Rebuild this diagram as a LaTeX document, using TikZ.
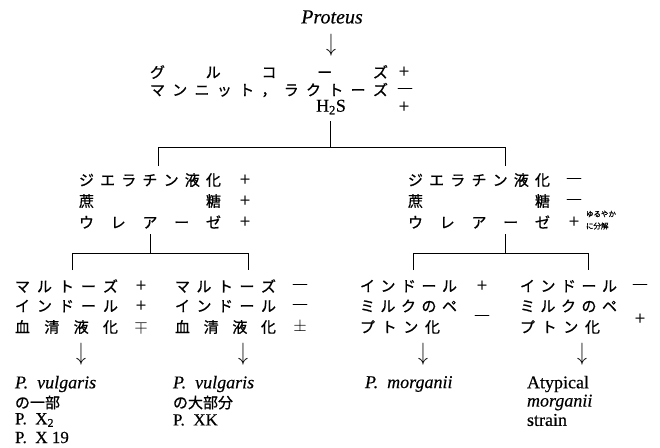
\documentclass[tikz,border=0pt]{standalone}
\usepackage{fontspec}
\setmainfont{Liberation Serif}[FakeBold=0.4]
\newfontfamily\jp{Noto Sans CJK JP}[FakeBold=0.8]
\newcommand\darr{\scalebox{1.15}[1.45]{$\downarrow$}}
\begin{document}
\begin{tikzpicture}[x=1pt,y=-1pt,
  every node/.style={inner sep=0pt, outer sep=0pt},
  jt/.style={anchor=west, font=\jp\fontsize{15}{15}\selectfont},
  jsmall/.style={anchor=west, font=\jp\fontsize{7.5}{7.5}\selectfont},
  sg/.style={font=\fontsize{19}{19}\selectfont},
  dsh/.style={font=\fontsize{14}{14}\selectfont},
  lt/.style={anchor=west, font=\fontsize{18}{18}\selectfont},
  ltb/.style={anchor=west, font=\fontsize{17}{17}\selectfont},
  ar/.style={font=\fontsize{18}{18}\selectfont},
  ln/.style={line width=0.8pt}]
\useasboundingbox (0,0) rectangle (660,447);
% top
\node[font=\itshape\fontsize{20}{20}\selectfont] (prot) at (332,17) {Proteus};
\node[ar] (a0) at (331,45) {\darr};
\node[jt] (t1) at (150,72) {\hbox to 238pt{グ\hfill ル\hfill コ\hfill ー\hfill ズ}};
\node[jt] (t2) at (150,90) {\hbox to 238pt{マ\hfill ン\hfill ニ\hfill ッ\hfill ト\hfill ，\hfill ラ\hfill ク\hfill ト\hfill ー\hfill ズ}};
\node[font=\fontsize{18}{18}\selectfont] (t3) at (331,107) {H\textsubscript{2}S};
\node[sg] (s1) at (404,72) {+};
\node[dsh] (s2) at (405,90) {—};
\node[sg] (s3) at (404,107) {+};
\coordinate (tS) at (330,121);
\coordinate (tJ) at (330,147);
\coordinate (tL) at (158,147);
\coordinate (tR) at (505,147);
\coordinate (tLd) at (158,166);
\coordinate (tRd) at (505,166);
\draw[ln] (tS) -- (tJ);
\draw[ln] (tLd) -- (tL) -- (tR) -- (tRd);
% middle left
\node[jt] (ml1) at (79,180) {\hbox to 142pt{ジ\hfill エ\hfill ラ\hfill チ\hfill ン\hfill 液\hfill 化}};
\node[jt] (ml2) at (79,201) {\hbox to 142pt{蔗\hfill 糖}};
\node[jt] (ml3) at (79,222) {\hbox to 142pt{ウ\hfill レ\hfill ア\hfill ー\hfill ゼ}};
\node[sg] (mls1) at (245,180) {+};
\node[sg] (mls2) at (245,201) {+};
\node[sg] (mls3) at (245,222) {+};
% middle right
\node[jt] (mr1) at (408,180) {\hbox to 142pt{ジ\hfill エ\hfill ラ\hfill チ\hfill ン\hfill 液\hfill 化}};
\node[jt] (mr2) at (408,201) {\hbox to 142pt{蔗\hfill 糖}};
\node[jt] (mr3) at (408,222) {\hbox to 142pt{ウ\hfill レ\hfill ア\hfill ー\hfill ゼ}};
\node[dsh] (mrs1) at (574,180) {—};
\node[dsh] (mrs2) at (574,201) {—};
\node[sg] (mrs3) at (574,222) {+};
\node[jsmall] (note1) at (586,214) {ゆるやか};
\node[jsmall] (note2) at (586,226) {に分解};
% brackets middle
\coordinate (lS) at (150,234);
\coordinate (lJ) at (150,253);
\coordinate (lL) at (72,253);
\coordinate (lR) at (248,253);
\coordinate (lLd) at (72,270);
\coordinate (lRd) at (248,270);
\draw[ln] (lS) -- (lJ);
\draw[ln] (lLd) -- (lL) -- (lR) -- (lRd);
\coordinate (rS) at (505,234);
\coordinate (rJ) at (505,253);
\coordinate (rL) at (413,253);
\coordinate (rR) at (588,253);
\coordinate (rLd) at (413,270);
\coordinate (rRd) at (588,270);
\draw[ln] (rS) -- (rJ);
\draw[ln] (rLd) -- (rL) -- (rR) -- (rRd);
% bottom col A
\node[jt] (a1) at (15,286) {\hbox to 103pt{マ\hfill ル\hfill ト\hfill ー\hfill ズ}};
\node[jt] (a2) at (15,306) {\hbox to 103pt{イ\hfill ン\hfill ド\hfill ー\hfill ル}};
\node[jt] (a3) at (15,327) {\hbox to 103pt{血\hfill 清\hfill 液\hfill 化}};
\node[sg] (as1) at (141,286) {+};
\node[sg] (as2) at (141,306) {+};
\node[sg] (as3) at (141,327) {$\mp$};
\node[ar] (aa) at (81,354) {\darr};
\node[lt] (ar1) at (15,384) {\itshape P.\ \ vulgaris};
\node[jt] (ar2) at (15,402.5) {の一部};
\node[ltb] (ar3) at (15,420) {P.\ \ X\textsubscript{2}};
\node[ltb] (ar4) at (15,437.5) {P.\ \ X 19};
% col B
\node[jt] (b1) at (175,286) {\hbox to 101pt{マ\hfill ル\hfill ト\hfill ー\hfill ズ}};
\node[jt] (b2) at (175,306) {\hbox to 101pt{イ\hfill ン\hfill ド\hfill ー\hfill ル}};
\node[jt] (b3) at (175,327) {\hbox to 101pt{血\hfill 清\hfill 液\hfill 化}};
\node[dsh] (bs1) at (300,286) {—};
\node[dsh] (bs2) at (300,306) {—};
\node[sg] (bs3) at (300,327) {$\pm$};
\node[ar] (ba) at (243,354) {\darr};
\node[lt] (br1) at (173,384) {\itshape P.\ \ vulgaris};
\node[jt] (br2) at (173,402.5) {の大部分};
\node[ltb] (br3) at (173,420) {P.\ \ XK};
% col C
\node[jt] (c1) at (360,286) {\hbox to 97pt{イ\hfill ン\hfill ド\hfill ー\hfill ル}};
\node[jt] (c2) at (360,306) {\hbox to 97pt{ミ\hfill ル\hfill ク\hfill の\hfill ペ}};
\node[jt] (c3) at (360,327) {\hbox to 80pt{プ\hfill ト\hfill ン\hfill 化}};
\node[sg] (cs1) at (482,286) {+};
\node[dsh] (cs2) at (482,317) {—};
\node[ar] (ca) at (423,354) {\darr};
\node[lt] (cr1) at (365,384) {\itshape P.\ \ morganii};
% col D
\node[jt] (d1) at (520,286) {\hbox to 97pt{イ\hfill ン\hfill ド\hfill ー\hfill ル}};
\node[jt] (d2) at (520,306) {\hbox to 97pt{ミ\hfill ル\hfill ク\hfill の\hfill ペ}};
\node[jt] (d3) at (520,327) {\hbox to 80pt{プ\hfill ト\hfill ン\hfill 化}};
\node[dsh] (ds1) at (640,286) {—};
\node[sg] (ds2) at (640,319) {+};
\node[ar] (da) at (582,354) {\darr};
\node[lt] (dr1) at (527,384) {Atypical};
\node[lt] (dr2) at (527,402.5) {\itshape morganii};
\node[lt] (dr3) at (527,420) {strain};
\end{tikzpicture}
\end{document}
